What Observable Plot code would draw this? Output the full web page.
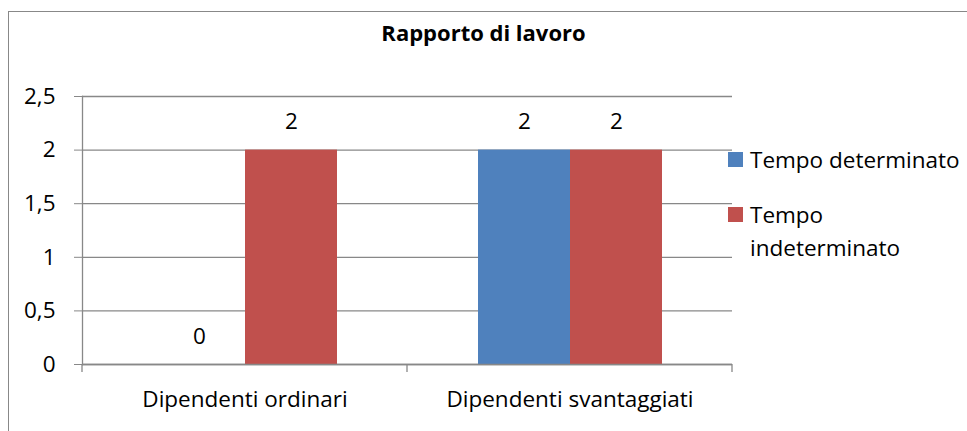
<!DOCTYPE html>
<html>
<head>
<meta charset="utf-8">
<script src="https://cdn.jsdelivr.net/npm/d3@7"></script>
<script src="https://cdn.jsdelivr.net/npm/@observablehq/plot@0.6"></script>
<style>
  html, body { margin: 0; padding: 0; background: #fff; }
  #wrap { position: relative; width: 967px; height: 431px; overflow: hidden; font-family: "Open Sans", sans-serif; color: #000; }
  #frame { position: absolute; left: 8px; top: 11px; width: 2000px; height: 2000px; border-left: 1.5px solid #888; border-top: 1.5px solid #888; box-sizing: border-box; }
  #title { position: absolute; left: 0; width: 967px; top: 17px; text-align: center; font-weight: bold; font-size: 22px; line-height: 30px; }
  #legend { position: absolute; left: 728px; top: 143px; font-size: 22.5px; line-height: 33px; white-space: nowrap; }
  .item { position: relative; padding-left: 22px; }
  .sw { position: absolute; left: 0; width: 15px; height: 15px; }
  #chart { position: absolute; left: 0; top: 0; }
</style>
</head>
<body>
<div id="wrap">
  <div id="frame"></div>
  <div id="chart"></div>
  <div id="title"></div>
  <div id="legend"></div>
</div>
<script>
const titleText = "Rapporto di lavoro";
const categories = ["Dipendenti ordinari", "Dipendenti svantaggiati"];
const series = ["Tempo determinato", "Tempo indeterminato"];
const determinato = [0, 2];
const indeterminato = [2, 2];
const yTicks = [0, 0.5, 1, 1.5, 2, 2.5];
const colors = ["#4F81BD", "#C0504D"];
const legendLines = [["Tempo determinato"], ["Tempo", "indeterminato"]];

const data = categories.flatMap((c, i) => [
  {category: c, series: series[0], value: determinato[i]},
  {category: c, series: series[1], value: indeterminato[i]}
]);

const fmt = d => String(d).replace(".", ",");
const font = "Open Sans, sans-serif";
const grey = "#888888";
const fs = 22.5;

const chart = Plot.plot({
  width: 967,
  height: 431,
  marginLeft: 82,
  marginRight: 235,
  marginTop: 96,
  marginBottom: 67,
  style: {fontFamily: font, fontSize: fs + "px", color: "#000", background: "transparent"},
  fx: {domain: categories, padding: 0, label: null},
  x: {domain: series, paddingInner: 0, paddingOuter: 0.766, axis: null},
  y: {domain: [0, 2.5], axis: null},
  color: {domain: series, range: colors},
  marks: [
    Plot.gridY(yTicks, {stroke: grey, strokeOpacity: 1, strokeWidth: 1.3}),
    Plot.frame({anchor: "left", facetAnchor: "left", stroke: grey, strokeWidth: 1.3}),
    Plot.axisY(yTicks, {anchor: "left", tickSize: 8, tickPadding: 19, tickFormat: fmt, stroke: grey, fontSize: fs, label: null}),
    Plot.barY(data, {fx: "category", x: "series", y: "value", fill: "series"}),
    Plot.ruleY([0], {stroke: grey, strokeWidth: 1.3}),
    Plot.text(data, {fx: "category", x: "series", y: "value", text: d => fmt(d.value), dy: -28, fontSize: fs, fill: "#000"}),
    Plot.axisFx({anchor: "bottom", tickSize: 0, tickPadding: 27, fontSize: fs, label: null})
  ]
});
document.getElementById("chart").appendChild(chart);

// category boundary ticks below the baseline, positioned with the plot's own scales
const fxS = chart.scale("fx");
const yS = chart.scale("y");
const y0 = yS.apply(0);
const bounds = categories.map(c => fxS.apply(c)).concat([fxS.apply(categories[categories.length - 1]) + fxS.bandwidth]);
const svg = d3.select(chart.tagName.toLowerCase() === "svg" ? chart : chart.querySelector("svg"));
svg.append("g").selectAll("line").data(bounds).join("line")
  .attr("x1", d => d).attr("x2", d => d)
  .attr("y1", y0).attr("y2", y0 + 8)
  .attr("stroke", grey).attr("stroke-width", 1.3);

document.getElementById("title").textContent = titleText;
const legend = d3.select("#legend");
legendLines.forEach((lines, i) => {
  const item = legend.append("div").attr("class", "item").style("margin-bottom", i === 0 ? "22px" : "0");
  item.append("div").attr("class", "sw").style("background", colors[i]).style("top", "9px");
  lines.forEach(t => item.append("div").text(t));
});
</script>
</body>
</html>
